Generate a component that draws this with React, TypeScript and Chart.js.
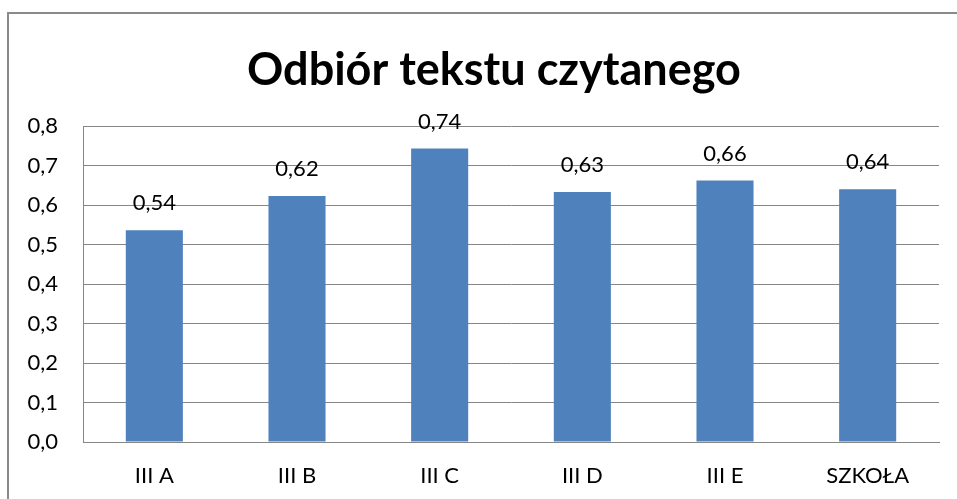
import React, { useEffect, useRef } from "react";
import { Chart, registerables } from "chart.js";

Chart.register(...registerables);

const categories = ["III A", "III B", "III C", "III D", "III E", "SZKOŁA"];
const values = [0.536, 0.623, 0.743, 0.633, 0.662, 0.64];
const yTicks = [0, 0.1, 0.2, 0.3, 0.4, 0.5, 0.6, 0.7, 0.8];
const title = "Odbiór tekstu czytanego";

const FONT = "Lato, 'Open Sans', sans-serif";

const labelPlugin = {
  id: "barLabels",
  afterDatasetsDraw(chart: any) {
    const ctx = chart.ctx;
    const meta = chart.getDatasetMeta(0);
    ctx.save();
    ctx.font = `22px ${FONT}`;
    ctx.fillStyle = "#000";
    ctx.textAlign = "center";
    ctx.textBaseline = "middle";
    meta.data.forEach((bar: any, i: number) => {
      const v = values[i];
      ctx.fillText(v.toFixed(2).replace(".", ","), bar.x, bar.y - 27);
    });
    ctx.restore();
  },
};

const titlePlugin = {
  id: "chartTitle",
  afterDraw(chart: any) {
    const ctx = chart.ctx;
    ctx.save();
    ctx.font = `bold 45px ${FONT}`;
    ctx.fillStyle = "#000";
    ctx.textAlign = "center";
    ctx.textBaseline = "alphabetic";
    ctx.fillText(title, 494, 85);
    ctx.restore();
  },
};

export default function App() {
  const ref = useRef<HTMLCanvasElement>(null);
  useEffect(() => {
    if (!ref.current) return;
    const chart = new Chart(ref.current, {
      type: "bar",
      data: {
        labels: categories,
        datasets: [
          {
            data: values,
            backgroundColor: "#4F81BD",
            barPercentage: 0.4,
            categoryPercentage: 1,
          },
        ],
      },
      plugins: [labelPlugin, titlePlugin],
      options: {
        animation: false,
        responsive: false,
        maintainAspectRatio: false,
        layout: { padding: { left: 0, right: 18, top: 126, bottom: 0 } },
        plugins: {
          legend: { display: false },
          tooltip: { enabled: false },
          title: { display: false },
        },
        scales: {
          x: {
            grid: { display: false, drawTicks: false },
            border: { display: true, color: "#868686", width: 1 },
            ticks: {
              color: "#000",
              font: { family: FONT, size: 22 },
              padding: 21,
              maxRotation: 0,
            },
            afterFit: (s: any) => {
              s.height = 57;
            },
          },
          y: {
            min: 0,
            max: 0.8,
            afterBuildTicks: (s: any) => {
              s.ticks = yTicks.map((v) => ({ value: v }));
            },
            grid: { color: "#868686", lineWidth: 1, drawTicks: false },
            border: { display: true, color: "#868686", width: 1 },
            ticks: {
              color: "#000",
              font: { family: FONT, size: 22 },
              padding: 25,
              callback: (v: any) => Number(v).toFixed(1).replace(".", ","),
            },
            afterFit: (s: any) => {
              s.width = 83;
            },
          },
        },
      },
    });
    return () => chart.destroy();
  }, []);

  return (
    <div
      style={{
        position: "fixed",
        left: 0,
        top: 0,
        width: 957,
        height: 499,
        overflow: "hidden",
        background: "#fff",
      }}
    >
      <div
        style={{
          position: "absolute",
          left: 7,
          top: 12,
          width: 1100,
          height: 700,
          borderTop: "2px solid #8a8a8a",
          borderLeft: "2px solid #8a8a8a",
          boxSizing: "border-box",
        }}
      />
      <canvas
        ref={ref}
        width={957}
        height={499}
        style={{ position: "absolute", left: 0, top: 0 }}
      />
    </div>
  );
}
